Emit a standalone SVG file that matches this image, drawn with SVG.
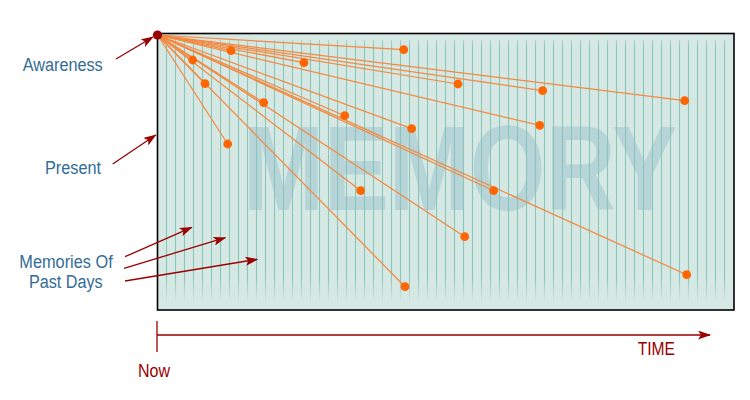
<svg xmlns="http://www.w3.org/2000/svg" width="750" height="400" viewBox="0 0 750 400">
  <defs>
    <style>
      .lbl { font-family: "Liberation Sans Narrow", "Liberation Sans", Arial, sans-serif; font-size: 18px; fill: #346c96; }
      .red { font-family: "Liberation Sans Narrow", "Liberation Sans", Arial, sans-serif; font-size: 18px; fill: #990000; }
      .ptr { stroke: #990000; stroke-width: 1.3; fill: none; }
      .ray { stroke: #f4893f; stroke-width: 1.25; fill: none; }
      .dot { fill: #ff6600; }
    </style>
    <linearGradient id="stripeFade" gradientUnits="userSpaceOnUse" x1="0" y1="40" x2="0" y2="303">
      <stop offset="0" stop-color="#a9d4cc"/>
      <stop offset="0.03" stop-color="#88c6ba"/>
      <stop offset="0.9" stop-color="#88c6ba"/>
      <stop offset="1" stop-color="#d6e8e4"/>
    </linearGradient>
    <marker id="arrow" viewBox="0 0 13 9" refX="12" refY="4.5" markerWidth="13" markerHeight="9" markerUnits="userSpaceOnUse" orient="auto">
      <path d="M0,0 L13,4.5 L0,9 L3,4.5 z" fill="#990000"/>
    </marker>
  </defs>

  <g id="memory-box">
    <rect x="157.5" y="33.5" width="576.5" height="276.5" fill="#d6e8e4" stroke="#000" stroke-width="1.6"/>
    <text x="243" y="210" font-family="Liberation Sans, Arial, sans-serif" font-weight="bold" font-size="121" fill="#b7d4d8" textLength="434" lengthAdjust="spacingAndGlyphs">MEMORY</text>
    <path stroke="url(#stripeFade)" stroke-width="1.1" fill="none" d="M166.5 40V303M175.5 40V303M184.5 40V303M193.5 40V303M202.5 40V303M211.5 40V303M220.5 40V303M229.5 40V303M238.5 40V303M247.5 40V303M256.5 40V303M265.5 40V303M274.5 40V303M283.5 40V303M292.5 40V303M301.5 40V303M310.5 40V303M319.5 40V303M328.5 40V303M337.5 40V303M346.5 40V303M355.5 40V303M364.5 40V303M373.5 40V303M382.5 40V303M391.5 40V303M400.5 40V303M409.5 40V303M418.5 40V303M427.5 40V303M436.5 40V303M445.5 40V303M454.5 40V303M463.5 40V303M472.5 40V303M481.5 40V303M490.5 40V303M499.5 40V303M508.5 40V303M517.5 40V303M526.5 40V303M535.5 40V303M544.5 40V303M553.5 40V303M562.5 40V303M571.5 40V303M580.5 40V303M589.5 40V303M598.5 40V303M607.5 40V303M616.5 40V303M625.5 40V303M634.5 40V303M643.5 40V303M652.5 40V303M661.5 40V303M670.5 40V303M679.5 40V303M688.5 40V303M697.5 40V303M706.5 40V303M715.5 40V303M724.5 40V303"/>
  </g>

  <g id="connectors">
    <g id="rays">
      <line class="ray" x1="157.5" y1="35" x2="403.7" y2="49.7"/>
      <line class="ray" x1="157.5" y1="35" x2="231" y2="50.7"/>
      <line class="ray" x1="157.5" y1="35" x2="304" y2="62.7"/>
      <line class="ray" x1="157.5" y1="35" x2="192.7" y2="60"/>
      <line class="ray" x1="157.5" y1="35" x2="458" y2="84"/>
      <line class="ray" x1="157.5" y1="35" x2="542.7" y2="90.7"/>
      <line class="ray" x1="157.5" y1="35" x2="684.7" y2="100.7"/>
      <line class="ray" x1="157.5" y1="35" x2="205" y2="83.7"/>
      <line class="ray" x1="157.5" y1="35" x2="263.7" y2="102.7"/>
      <line class="ray" x1="157.5" y1="35" x2="344.7" y2="115.7"/>
      <line class="ray" x1="157.5" y1="35" x2="411.7" y2="128.7"/>
      <line class="ray" x1="157.5" y1="35" x2="539.7" y2="125.3"/>
      <line class="ray" x1="157.5" y1="35" x2="227.7" y2="144"/>
      <line class="ray" x1="157.5" y1="35" x2="360.7" y2="190.7"/>
      <line class="ray" x1="157.5" y1="35" x2="493.7" y2="190.7"/>
      <line class="ray" x1="157.5" y1="35" x2="464.7" y2="236.7"/>
      <line class="ray" x1="157.5" y1="35" x2="686.7" y2="274.7"/>
      <line class="ray" x1="157.5" y1="35" x2="405" y2="286.7"/>
    </g>
    <g id="pointers">
      <line class="ptr" x1="116" y1="59" x2="153" y2="37" marker-end="url(#arrow)"/>
      <line class="ptr" x1="112.7" y1="164" x2="155.7" y2="135" marker-end="url(#arrow)"/>
      <line class="ptr" x1="125" y1="256.7" x2="191.7" y2="227.3" marker-end="url(#arrow)"/>
      <line class="ptr" x1="124" y1="268.3" x2="225.3" y2="237.7" marker-end="url(#arrow)"/>
      <line class="ptr" x1="125" y1="281" x2="257.3" y2="259.3" marker-end="url(#arrow)"/>
    </g>
    <g id="time-axis">
      <line class="ptr" x1="157" y1="321" x2="157" y2="352"/>
      <line class="ptr" x1="157" y1="335" x2="710" y2="335" marker-end="url(#arrow)"/>
    </g>
  </g>

  <g id="memory-dots">
    <circle class="dot" cx="403.7" cy="49.7" r="4.4"/>
    <circle class="dot" cx="231" cy="50.7" r="4.4"/>
    <circle class="dot" cx="304" cy="62.7" r="4.4"/>
    <circle class="dot" cx="192.7" cy="60" r="4.4"/>
    <circle class="dot" cx="458" cy="84" r="4.4"/>
    <circle class="dot" cx="542.7" cy="90.7" r="4.4"/>
    <circle class="dot" cx="684.7" cy="100.7" r="4.4"/>
    <circle class="dot" cx="205" cy="83.7" r="4.4"/>
    <circle class="dot" cx="263.7" cy="102.7" r="4.4"/>
    <circle class="dot" cx="344.7" cy="115.7" r="4.4"/>
    <circle class="dot" cx="411.7" cy="128.7" r="4.4"/>
    <circle class="dot" cx="539.7" cy="125.3" r="4.4"/>
    <circle class="dot" cx="227.7" cy="144" r="4.4"/>
    <circle class="dot" cx="360.7" cy="190.7" r="4.4"/>
    <circle class="dot" cx="493.7" cy="190.7" r="4.4"/>
    <circle class="dot" cx="464.7" cy="236.7" r="4.4"/>
    <circle class="dot" cx="686.7" cy="274.7" r="4.4"/>
    <circle class="dot" cx="405" cy="286.7" r="4.4"/>
  </g>

  <g id="origin">
    <circle cx="157.5" cy="35" r="4.6" fill="#990000"/>
  </g>

  <g id="label-awareness"><text class="lbl" x="22.7" y="71" textLength="80" lengthAdjust="spacingAndGlyphs">Awareness</text></g>
  <g id="label-present"><text class="lbl" x="45" y="174" textLength="56" lengthAdjust="spacingAndGlyphs">Present</text></g>
  <g id="label-memories">
    <text class="lbl" x="19.3" y="268.3" textLength="93.4" lengthAdjust="spacingAndGlyphs">Memories Of</text>
    <text class="lbl" x="29" y="288.3" textLength="73.7" lengthAdjust="spacingAndGlyphs">Past Days</text>
  </g>
  <g id="label-now"><text class="red" x="138" y="376.7" textLength="32" lengthAdjust="spacingAndGlyphs">Now</text></g>
  <g id="label-time"><text class="red" x="637.7" y="355" textLength="37.3" lengthAdjust="spacingAndGlyphs">TIME</text></g>
</svg>
